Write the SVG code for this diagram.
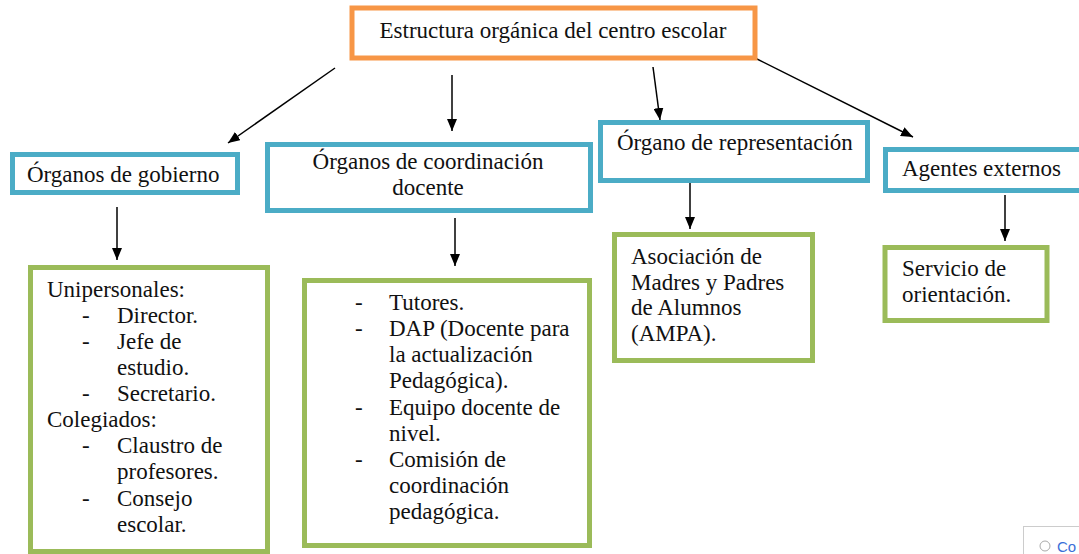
<svg xmlns="http://www.w3.org/2000/svg" width="1079" height="554" viewBox="0 0 1079 554">
<style>
text{font-family:"Liberation Serif","Times New Roman",serif;font-size:23px;fill:#111}
.orange{fill:#fff;stroke:#F79646;stroke-width:5}
.blue{fill:#fff;stroke:#4BACC6;stroke-width:5}
.green{fill:#fff;stroke:#9BBB59;stroke-width:5}
.conn line{stroke:#000;stroke-width:1.5}
</style>
<defs>
<marker id="ah" viewBox="0 0 12 10" refX="12" refY="5" markerWidth="12" markerHeight="10" markerUnits="userSpaceOnUse" orient="auto">
<path d="M0,0 L12,5 L0,10 Z" fill="#000"/>
</marker>
</defs>
<rect width="1079" height="554" fill="#fff"/>
<g class="conn">
<line x1="335" y1="68" x2="228" y2="143" marker-end="url(#ah)"/>
<line x1="452" y1="75" x2="452" y2="131" marker-end="url(#ah)"/>
<line x1="653" y1="67" x2="660" y2="120" marker-end="url(#ah)"/>
<line x1="755" y1="58" x2="913" y2="137" marker-end="url(#ah)"/>
<line x1="117" y1="207" x2="117" y2="260" marker-end="url(#ah)"/>
<line x1="455" y1="218" x2="455" y2="266" marker-end="url(#ah)"/>
<line x1="690" y1="183" x2="690" y2="229" marker-end="url(#ah)"/>
<line x1="1005" y1="195" x2="1005" y2="241" marker-end="url(#ah)"/>
</g>
<g id="root">
<rect class="orange" x="352" y="8" width="403" height="50"/>
<text x="553" y="38" text-anchor="middle">Estructura orgánica del centro escolar</text>
</g>
<g id="gobierno">
<rect class="blue" x="12.5" y="154.5" width="225" height="38"/>
<text x="27" y="182">Órganos de gobierno</text>
</g>
<g id="coordinacion">
<rect class="blue" x="267.5" y="144.5" width="323" height="66"/>
<text x="428" y="169" text-anchor="middle">Órganos de coordinación</text>
<text x="428" y="195" text-anchor="middle">docente</text>
</g>
<g id="representacion">
<rect class="blue" x="600.5" y="122.5" width="267" height="58"/>
<text x="617" y="150">Órgano de representación</text>
</g>
<g id="externos">
<rect class="blue" x="885.5" y="149.5" width="210" height="41"/>
<text x="902" y="176">Agentes externos</text>
</g>
<g id="gobierno-detalle">
<rect class="green" x="30.5" y="267.5" width="237" height="284"/>
<text x="47" y="297">Unipersonales:</text>
<text x="82" y="323">-</text><text x="117" y="323">Director.</text>
<text x="82" y="349">-</text><text x="117" y="349">Jefe de</text>
<text x="117" y="375">estudio.</text>
<text x="82" y="401">-</text><text x="117" y="401">Secretario.</text>
<text x="47" y="427">Colegiados:</text>
<text x="82" y="453">-</text><text x="117" y="453">Claustro de</text>
<text x="117" y="479">profesores.</text>
<text x="82" y="506">-</text><text x="117" y="506">Consejo</text>
<text x="117" y="532">escolar.</text>
</g>
<g id="coordinacion-detalle">
<rect class="green" x="304.5" y="280.5" width="285" height="265"/>
<text x="355" y="310">-</text><text x="389" y="310">Tutores.</text>
<text x="355" y="336">-</text><text x="389" y="336">DAP (Docente para</text>
<text x="389" y="362">la actualización</text>
<text x="389" y="388">Pedagógica).</text>
<text x="355" y="415">-</text><text x="389" y="415">Equipo docente de</text>
<text x="389" y="441">nivel.</text>
<text x="355" y="467">-</text><text x="389" y="467">Comisión de</text>
<text x="389" y="493">coordinación</text>
<text x="389" y="519">pedagógica.</text>
</g>
<g id="ampa">
<rect class="green" x="614.5" y="234.5" width="198" height="126"/>
<text x="631" y="264">Asociación de</text>
<text x="631" y="290">Madres y Padres</text>
<text x="631" y="315">de Alumnos</text>
<text x="631" y="341">(AMPA).</text>
</g>
<g id="orientacion">
<rect class="green" x="885" y="247.5" width="162" height="73"/>
<text x="902" y="276">Servicio de</text>
<text x="902" y="302">orientación.</text>
</g>
<g id="ui-tab">
<rect x="1023.5" y="526.5" width="70" height="40" fill="#fff" stroke="#ccc" stroke-width="1"/>
<circle cx="1045" cy="546" r="5" fill="none" stroke="#aaa" stroke-width="1"/>
<text x="1057" y="552" style="font-family:'Liberation Sans',Arial,sans-serif;font-size:15px;fill:#3a6fd8">Co</text>
</g>
</svg>
